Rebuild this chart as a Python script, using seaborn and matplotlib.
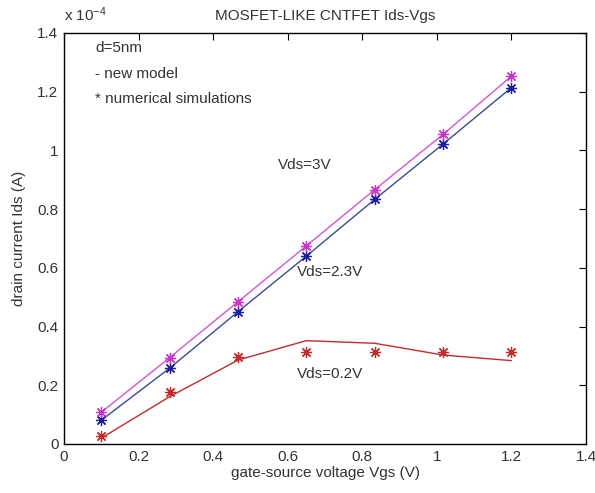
import numpy as np
import pandas as pd
import seaborn as sns
from matplotlib import pyplot as plt

# gate voltage points (V)
vgs = [0.1, 0.283, 0.467, 0.65, 0.833, 1.017, 1.2]

# drain current, in units of 1e-4 A
sim_3v = [0.108, 0.294, 0.485, 0.675, 0.866, 1.055, 1.253]
sim_23v = [0.081, 0.258, 0.451, 0.640, 0.833, 1.022, 1.214]
sim_02v = [0.027, 0.176, 0.297, 0.314, 0.313, 0.313, 0.313]

model_3v = [0.108, 0.294, 0.485, 0.675, 0.866, 1.055, 1.253]
model_23v = [0.081, 0.258, 0.451, 0.640, 0.833, 1.022, 1.214]
model_02v = [0.020, 0.161, 0.286, 0.352, 0.343, 0.303, 0.284]

x_ticks = [0, 0.2, 0.4, 0.6, 0.8, 1, 1.2, 1.4]
y_ticks = [0, 0.2, 0.4, 0.6, 0.8, 1, 1.2, 1.4]

sns.set_style("white")
plt.rcParams['font.family'] = ['Liberation Sans', 'DejaVu Sans']
plt.rcParams['mathtext.fontset'] = 'custom'
plt.rcParams['mathtext.rm'] = 'Liberation Sans'
plt.rcParams['mathtext.it'] = 'Liberation Sans'

txt_col = '#333333'
c_mag = '#cc33cc'
c_blue = '#1c1ca8'
c_red = '#c42a2a'
star = (8, 2, 0)

fig = plt.figure(figsize=(5.95, 4.93), dpi=100)
ax = fig.add_axes([0.1076, 0.0994, 0.8773, 0.8337])

df_model = pd.DataFrame({
    "vgs": vgs * 3,
    "ids": model_3v + model_23v + model_02v,
    "vds": ["3V"] * 7 + ["2.3V"] * 7 + ["0.2V"] * 7,
})
df_sim = pd.DataFrame({
    "vgs": vgs * 3,
    "ids": sim_3v + sim_23v + sim_02v,
    "vds": ["3V"] * 7 + ["2.3V"] * 7 + ["0.2V"] * 7,
})
pal = {"3V": '#d455d4', "2.3V": '#3a4a98', "0.2V": c_red}
sns.lineplot(data=df_model, x="vgs", y="ids", hue="vds", palette=pal,
             linewidth=1.0, legend=False, ax=ax, sort=False)
pal_s = {"3V": c_mag, "2.3V": c_blue, "0.2V": c_red}
for k, g in df_sim.groupby("vds"):
    ax.plot(g["vgs"], g["ids"], linestyle='none', marker=star,
            markersize=8, markeredgewidth=0.9, color=pal_s[k])

ax.set_xlim(0, 1.4)
ax.set_ylim(0, 1.4)
ax.set_xticks(x_ticks)
ax.set_yticks(y_ticks)
ax.set_xticklabels([f"{t:g}" for t in x_ticks])
ax.set_yticklabels([f"{t:g}" for t in y_ticks])
ax.tick_params(direction='in', length=5, width=0.8, top=True, right=True,
               labelsize=11, labelcolor=txt_col, color='black', pad=4)
for s in ax.spines.values():
    s.set_visible(True)
    s.set_color('black')
    s.set_linewidth(1.0)

ax.set_xlabel("gate-source voltage Vgs (V)", fontsize=11, color=txt_col, labelpad=2)
ax.set_ylabel("drain current Ids (A)", fontsize=11, color=txt_col, labelpad=8)
ax.set_title("MOSFET-LIKE CNTFET Ids-Vgs", fontsize=11, color=txt_col, pad=9)

ax.text(0.0, 1.43, r"x 10$^{-4}$", fontsize=11, color=txt_col, ha='left', va='bottom')

ax.text(0.083, 1.35, "d=5nm", fontsize=11, color=txt_col, va='center')
ax.text(0.083, 1.26, "- new model", fontsize=11, color=txt_col, va='center')
ax.text(0.083, 1.175, "* numerical simulations", fontsize=11, color=txt_col, va='center')

ax.text(0.574, 0.95, "Vds=3V", fontsize=11, color=txt_col, va='center')
ax.text(0.625, 0.586, "Vds=2.3V", fontsize=11, color=txt_col, va='center')
ax.text(0.625, 0.238, "Vds=0.2V", fontsize=11, color=txt_col, va='center')

plt.savefig("out.png", dpi=100)
